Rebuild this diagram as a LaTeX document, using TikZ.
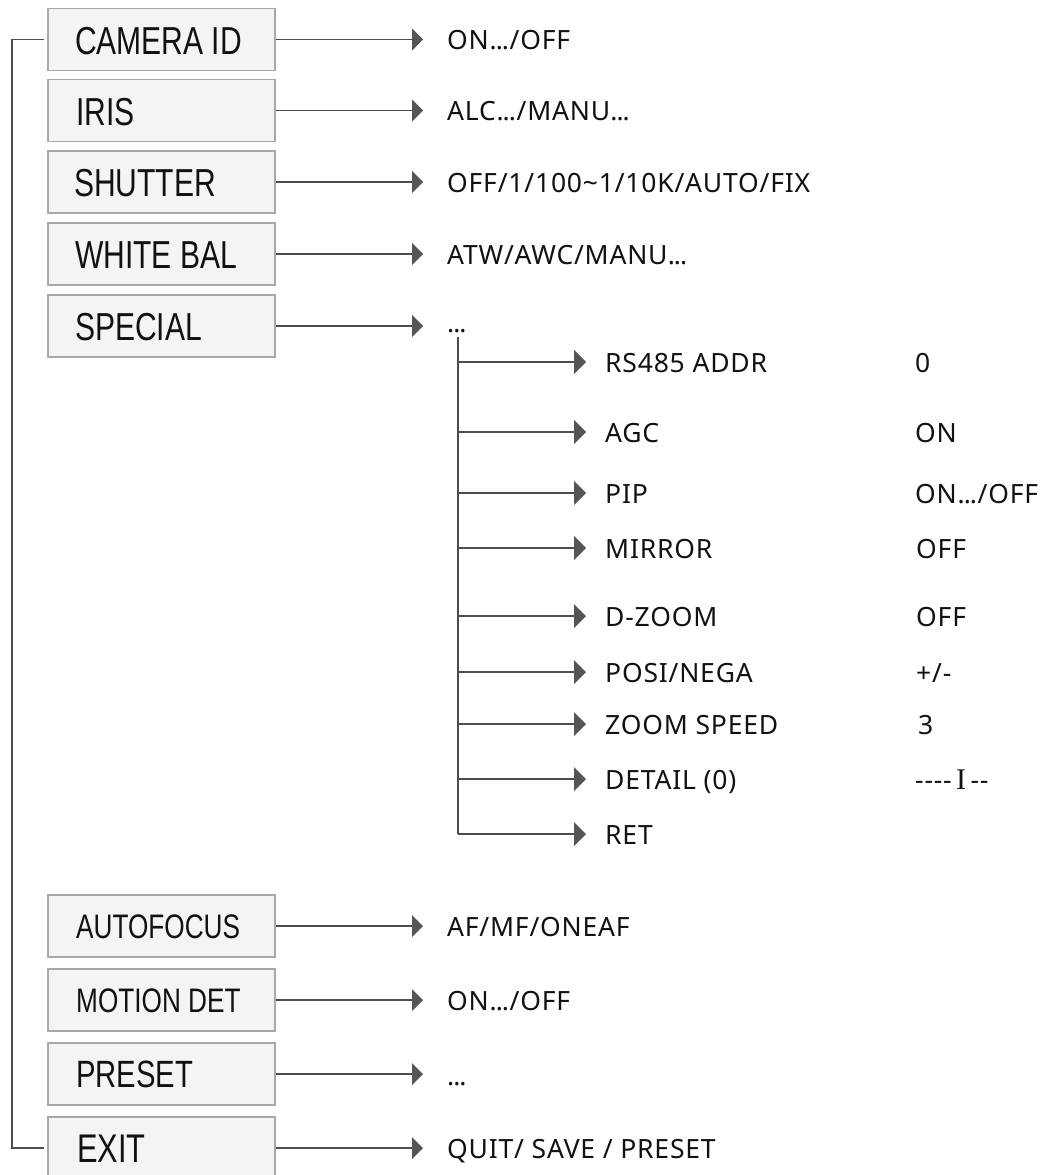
\documentclass[tikz,border=0pt]{standalone}
\usepackage{fontspec}
\newfontfamily\boxfont[FakeStretch=0.77]{Liberation Sans}
\newfontfamily\itemfont[LetterSpace=3]{Noto Sans}
\newfontfamily\serffont{Liberation Serif}
\definecolor{boxline}{HTML}{A8A8A8}
\definecolor{boxfill}{HTML}{F4F4F4}
\definecolor{conn}{HTML}{4D4D4D}
\definecolor{tipc}{HTML}{555555}
\definecolor{txt}{HTML}{111111}
\newcommand{\dts}{.\kern-1pt.\kern-1pt.}
\begin{document}
\begin{tikzpicture}[x=1pt,y=-1pt,
  menubox/.style={draw=boxline, fill=boxfill, line width=1.6pt, minimum height=62pt,
    minimum width=227pt, inner sep=0pt},
  boxlab/.style={anchor=base west, inner sep=0pt, text=txt},
  bigf/.style={font=\boxfont\fontsize{39}{40}\selectfont},
  midf/.style={font=\boxfont\fontsize{34}{35}\selectfont},
  item/.style={anchor=base west, inner sep=0pt, text=txt, font=\itemfont\fontsize{26.5}{28}\selectfont},
  line/.style={draw=conn, line width=1.5pt},
  tiphead/.style={fill=tipc}
]
\useasboundingbox (0,0) rectangle (1039,1175);
\begin{scope}
\clip (0,0) rectangle (1039,1175);
% main menu boxes
\node[menubox] (b1) at (161.5,39.5) {};
\node[menubox] (b2) at (161.5,110.5) {};
\node[menubox] (b3) at (161.5,182) {};
\node[menubox] (b4) at (161.5,254) {};
\node[menubox] (b5) at (161.5,326) {};
\node[menubox] (b6) at (161.5,926) {};
\node[menubox] (b7) at (161.5,1000) {};
\node[menubox] (b8) at (161.5,1074) {};
\node[menubox] (b9) at (161.5,1148) {};
\node[boxlab,bigf] (l1) at (75,54) {CAMERA ID};
\node[boxlab,bigf] (l2) at (76,125) {IRIS};
\node[boxlab,bigf] (l3) at (74,196.5) {SHUTTER};
\node[boxlab,bigf] (l4) at (75,268) {WHITE BAL};
\node[boxlab,bigf] (l5) at (75,340) {SPECIAL};
\node[boxlab,midf] (l6) at (76,938) {AUTOFOCUS};
\node[boxlab,midf] (l7) at (76,1012) {MOTION DET};
\node[boxlab,font=\boxfont\fontsize{38}{40}\selectfont] (l8) at (76,1087.5) {PRESET};
\node[boxlab,font=\boxfont\fontsize{40}{42}\selectfont] (l9) at (77,1162) {EXIT};
\end{scope}

% left bracket
\coordinate (lt) at (44,39.5);
\coordinate (lb) at (44,1148);
\draw[line] (lt) -- (12,39.5) -- (12,1148) -- (lb);

% main arrows
\foreach \n/\y in {1/39.5,2/110.5,3/182,4/254,5/326,6/926,7/1000,8/1074,9/1148}{
  \coordinate (t\n) at (413,\y);
  \draw[line] (b\n.east) -- (t\n);
  \fill[tiphead] (t\n) ++(-1,-11) -- ++(11,11) -- ++(-11,11) -- cycle;
}

\node[item] (v1) at (447,49.5) {ON\dts/OFF};
\node[item] (v2) at (447,120.5) {ALC\dts/MANU\dts};
\node[item] (v3) at (447,192) {OFF/1/100\textasciitilde 1/10K/AUTO/FIX};
\node[item] (v4) at (447,264) {ATW/AWC/MANU\dts};
\node[item] (v5) at (447,332) {\dts};
\node[item] (v6) at (447,936) {AF/MF/ONEAF};
\node[item] (v7) at (447,1010) {ON\dts/OFF};
\node[item] (v8) at (447,1085) {\dts};
\node[item] (v9) at (447,1158) {QUIT/ SAVE / PRESET};

% submenu
\coordinate (vtop) at (458,337);
\coordinate (vbot) at (458,834);
\draw[line] (vtop) -- (vbot);
\foreach \n/\y in {1/362,2/432,3/493,4/548,5/616,6/672,7/724,8/779,9/834}{
  \coordinate (s\n) at (458,\y);
  \coordinate (u\n) at (575,\y);
  \draw[line] (s\n) -- (u\n);
  \fill[tiphead] (u\n) ++(-1,-12) -- ++(12,12) -- ++(-12,12) -- cycle;
}

\node[item] (p1) at (605,372) {RS485 ADDR};
\node[item] (p2) at (605,442) {AGC};
\node[item] (p3) at (605,503) {PIP};
\node[item] (p4) at (605,558) {MIRROR};
\node[item] (p5) at (605,626) {D-ZOOM};
\node[item] (p6) at (605,682) {POSI/NEGA};
\node[item] (p7) at (605,734) {ZOOM SPEED};
\node[item] (p8) at (605,789) {DETAIL (0)};
\node[item] (p9) at (605,844) {RET};

\node[item] (q1) at (915,372) {0};
\node[item] (q2) at (915,442) {ON};
\node[item] (q3) at (915,503) {ON\dts/OFF};
\node[item] (q4) at (916,558) {OFF};
\node[item] (q5) at (916,626) {OFF};
\node[item] (q6) at (916,682) {+/-};
\node[item] (q7) at (918,734) {3};
\node[item] (q8) at (915,789) {----\,{\serffont\fontsize{30}{31}\selectfont I}\,--};
\end{tikzpicture}
\end{document}
